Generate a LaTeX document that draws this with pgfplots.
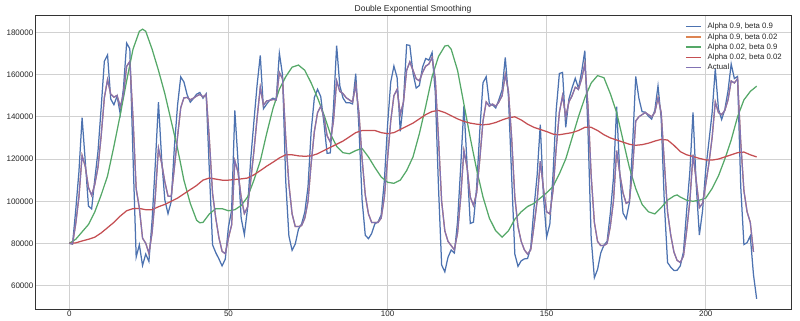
\documentclass[border=0pt]{standalone}
\usepackage{fontspec}
\setmainfont{Liberation Sans}
\usepackage{pgfplots}
\pgfplotsset{compat=1.18}
\usepackage{pgfplotstable}
\definecolor{sbblue}{HTML}{4C72B0}
\definecolor{sborange}{HTML}{DD8452}
\definecolor{sbgreen}{HTML}{55A868}
\definecolor{sbred}{HTML}{C44E52}
\definecolor{sbpurple}{HTML}{8172B3}
\pgfplotstableread{
x actual blue
0 80115 80115
1 79885 79700
2 89325 95800
3 101930 113800
4 121630 139600
5 116475 118900
6 106495 97700
7 102795 96400
8 108055 110500
9 116125 123600
10 131030 144400
11 149020 166300
12 157590 169300
13 150715 148400
14 149295 145700
15 150100 149800
16 144780 141300
17 150690 153500
18 163840 174900
19 166235 172200
20 139520 121400
21 105895 73600
22 96780 79400
23 82520 69600
24 80125 75000
25 75335 71500
26 85105 90900
27 102080 117300
28 125135 146900
29 118030 120100
30 109225 100700
31 102475 94100
32 102240 99800
33 115840 125600
34 130540 145400
35 144325 158900
36 148970 156500
37 149150 150500
38 148040 146900
39 148810 148700
40 149830 150700
41 150570 151500
42 149440 148800
43 150520 150900
44 129130 114300
45 103815 79400
46 92175 75700
47 82765 72700
48 76315 69400
49 75130 72600
50 82640 87800
51 88795 95700
52 119175 143000
53 113810 119100
54 101855 92000
55 94195 84200
56 97195 96600
57 109815 119900
58 123655 137800
59 139345 155000
60 153955 169100
61 145460 143800
62 147505 146000
63 147765 147900
64 148195 148800
65 148000 148100
66 161000 170100
67 158000 159800
68 130000 109500
69 108000 83500
70 94000 76800
71 88000 79800
72 88000 86800
73 88500 89300
74 92000 94900
75 100000 106800
76 118000 133300
77 133000 149100
78 142000 153000
79 145000 149600
80 140000 137100
81 131000 122700
82 128000 122900
83 138000 144100
84 157000 173700
85 152000 154700
86 151000 148900
87 149000 146600
88 148000 146700
89 147000 146100
90 155000 160400
91 142000 135200
92 120000 100600
93 103000 83900
94 94000 82300
95 90000 84700
96 90000 89300
97 90000 90200
98 92000 93500
99 102000 109800
100 120000 135900
101 138000 156400
102 150000 164000
103 153000 158600
104 141000 133100
105 147000 147200
106 162000 174100
107 166000 173800
108 162000 160700
109 158000 153600
110 157000 154800
111 161000 163500
112 164000 167600
113 165000 166800
114 168000 170400
115 158000 151600
116 130000 107100
117 100000 69800
118 86000 66600
119 81000 73500
120 79000 76900
121 77000 75500
122 85000 90300
123 102000 116500
124 124000 145100
125 116000 117100
126 102000 89500
127 98000 90100
128 104000 106700
129 120000 133600
130 138000 156100
131 147000 159000
132 145000 146200
133 146000 145600
134 145000 144200
135 147000 148100
136 150000 152700
137 160000 168100
138 152000 149300
139 130000 111900
140 102000 75000
141 88000 69200
142 81000 71800
143 77000 72700
144 75000 72900
145 77000 78000
146 88000 96500
147 100000 112100
148 119000 136300
149 106000 102400
150 95000 83100
151 94000 89100
152 105000 112500
153 125000 143100
154 142000 160500
155 150000 161000
156 140000 135000
157 147000 148400
158 150000 153700
159 154000 158200
160 153000 153500
161 158000 161300
162 165000 171300
163 145000 133000
164 112000 82500
165 90000 63800
166 81000 67700
167 79000 75500
168 79000 79200
169 80000 81000
170 88000 94100
171 100000 111000
172 124000 144800
173 113000 112600
174 104000 94400
175 99000 91700
176 100000 99200
177 115000 126200
178 138000 159100
179 140000 148700
180 141000 142400
181 142000 142200
182 141000 140300
183 140000 138900
184 142000 143100
185 149000 154600
186 142000 139300
187 118000 98800
188 95000 71000
189 84000 68800
190 76000 67200
191 72000 67300
192 71000 69400
193 74000 76000
194 86000 95600
195 100000 113800
196 122000 142100
197 110000 108100
198 97000 84000
199 99000 95500
200 108000 115000
201 118000 128300
202 130000 141800
203 147000 162700
204 142000 143600
205 141000 138700
206 143000 143500
207 148000 152200
208 157000 165000
209 156000 158100
210 158000 159100
211 128000 107000
212 105000 79500
213 95000 80400
214 90000 83600
215 76000 65300
216 nan 53800
}\data

\begin{document}
\begin{tikzpicture}
\begin{axis}[
  scale only axis, width=756pt, height=294.6pt,
  xmin=-10.8, xmax=226.8, ymin=48700, ymax=188200,
  xtick={0,50,100,150,200},
  ytick={60000,80000,100000,120000,140000,160000,180000},
  scaled y ticks=false, scaled x ticks=false,
  grid=major, major grid style={line width=0.8pt, draw=black!18},
  axis line style={draw=black!80, line width=0.9pt},
  major tick length=0pt, tick style={draw=none},
  ticklabel style={font=\fontsize{8}{9}\selectfont, text=black!85, inner sep=1.5pt},
  /pgf/number format/.cd, fixed, precision=0, 1000 sep={}, assume math mode=true,
  /pgfplots/.cd,
  title={Double Exponential Smoothing},
  every axis title/.style={font=\fontsize{8.5}{10}\selectfont, text=black!85, at={(0.5,1)}, anchor=south, yshift=1pt, inner sep=1pt},
  legend style={at={(rel axis cs:0.992,0.983)}, anchor=north east, draw=none, fill=none,
    font=\fontsize{7.8}{9}\selectfont, text=black!85, row sep=-1pt, inner sep=1pt},
  legend cell align=left,
  legend image code/.code={\draw[#1, line width=1.25pt] (0pt,0pt) -- (15pt,0pt); \path (19pt,0pt);},
]
\addplot[sbblue, line width=1.25pt] table[x=x, y=blue] {\data};
\addlegendentry{Alpha 0.9, beta 0.9}
\addplot[sborange, line width=1.25pt] table[x=x, y=actual] {\data};
\addlegendentry{Alpha 0.9, beta 0.02}
\addplot[sbgreen, line width=1.25pt] coordinates {
(0,80100)(2,82000)(4,85500)(6,89000)(8,95000)(10,103000)(12,112000)(14,126000)(16,141000)(18,157000)
(20,172000)(22,180500)(23,181500)(24,180500)(26,172000)(28,162000)(30,151000)(32,138000)(34,125000)
(36,110000)(38,99000)(40,91000)(41,89800)(42,90000)(44,94000)(46,96500)(48,96500)(50,95500)(52,96000)
(54,98000)(56,102000)(58,110000)(60,119000)(62,132000)(64,144000)(66,153000)(68,159000)(70,163500)
(72,164500)(74,162000)(76,156000)(78,149000)(80,141000)(82,132000)(84,126000)(86,123000)(88,122500)
(90,124000)(92,125000)(94,121000)(96,116000)(98,111500)(100,109000)(102,108500)(104,110000)
(106,114500)(108,121000)(110,132000)(112,145000)(114,159000)(116,168500)(118,173500)(119,173800)
(120,172000)(122,162000)(124,146000)(126,130000)(128,115000)(130,102000)(132,92000)(134,86000)
(136,83000)(138,86000)(140,91500)(142,95000)(144,97500)(146,99000)(148,101500)(150,104000)
(152,107000)(154,113000)(156,120000)(158,130000)(160,140000)(162,149000)(164,156000)(166,159500)
(168,158500)(170,151000)(172,142000)(174,129000)(176,116000)(178,106000)(180,98500)(182,95000)
(184,94000)(186,97000)(188,100500)(190,102500)(191,103000)(192,102000)(194,100500)(196,100000)
(198,100500)(200,101500)(202,106000)(204,112000)(206,120000)(208,129000)(210,140000)(212,148000)
(214,152000)(216,154500)
};
\addlegendentry{Alpha 0.02, beta 0.9}
\addplot[sbred, line width=1.25pt] coordinates {
(0,80100)(2,80300)(4,81200)(6,82000)(8,83000)(10,85000)(12,87500)(14,90000)(16,93000)(18,95500)
(20,96500)(22,96600)(24,96000)(26,96000)(28,97400)(30,98500)(32,100000)(34,101500)(36,103500)
(38,105500)(40,107500)(42,110000)(44,111000)(46,110500)(48,110000)(50,110000)(52,110300)(54,110600)
(56,111000)(58,112500)(60,114500)(62,116600)(64,118500)(66,120500)(68,122000)(70,122000)(72,121500)
(74,121300)(76,121500)(78,122500)(80,124000)(82,125500)(84,127000)(86,128500)(88,130500)(90,132500)
(92,133500)(94,133500)(96,133500)(98,132500)(100,132000)(102,132500)(104,134000)(106,135500)
(108,137000)(110,139000)(112,141000)(114,142500)(116,143000)(118,142000)(120,140500)(122,139000)
(124,137800)(126,137000)(128,136500)(130,136200)(132,136500)(134,137300)(136,138500)(138,139500)
(140,140000)(142,138500)(144,136500)(146,135000)(148,134000)(150,133000)(152,131800)(154,131500)
(156,132000)(158,132500)(160,133500)(162,135000)(164,135000)(166,133500)(168,131500)(170,130000)
(172,129000)(174,128000)(176,127000)(178,126500)(180,126800)(182,127500)(184,128500)(186,129300)
(188,129000)(190,126500)(192,123500)(194,122000)(196,121200)(198,120300)(200,119600)(202,119500)
(204,120000)(206,121000)(208,122000)(210,123000)(212,123300)(214,122000)(216,121000)
};
\addlegendentry{Alpha 0.02, beta 0.02}
\addplot[sbpurple, line width=1.25pt] table[x=x, y=actual] {\data};
\addlegendentry{Actual}
\end{axis}
\pgfresetboundingbox
\path[use as bounding box] ([xshift=-35pt, yshift=-11.4pt]current axis.south west) rectangle ++(800pt,321pt);
\end{tikzpicture}
\end{document}
